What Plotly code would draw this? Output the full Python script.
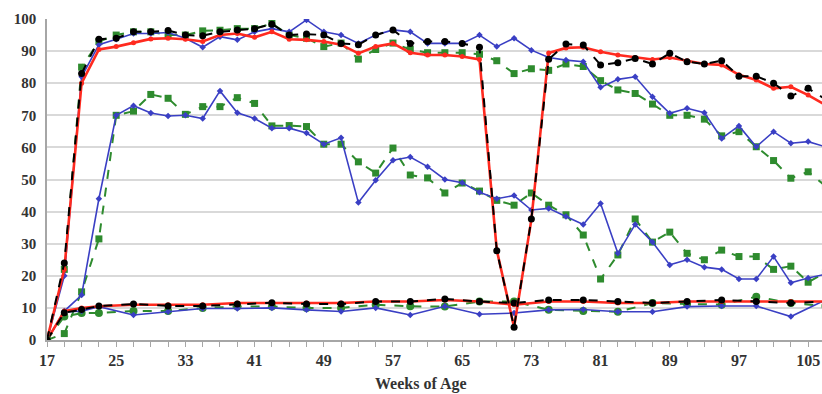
import plotly.graph_objects as go

# ---- data ----
weeks = list(range(17, 108, 2))  # 17..107, every 2 weeks
weeks_low = [17, 19, 21, 23] + list(range(27, 108, 4))

top_red = [0, 22, 80, 90.5, 91.4, 92.6, 93.8, 94, 93.7, 93, 95, 95.5, 94.3, 96, 93.7, 93.5,
           93, 92, 89.3, 91.4, 92.4, 89.5, 88.8, 88.8, 88.3, 87.4, 28, 4, 37.5, 89.4, 91,
           91.2, 89.8, 88.8, 88, 87.4, 88, 87, 86, 85.7, 82.6, 81, 78.4, 78.9, 76.3, 73.2]
top_black = [0, 24, 83, 93.7, 94, 96, 96, 96.4, 95, 94.8, 96, 96.6, 97, 98.4, 95, 95.3,
             95, 92.4, 92, 95, 96.6, 92.4, 93, 93, 92.4, 91.2, 27.8, 4, 37.7, 87.5, 92.2,
             91.9, 85.7, 86.4, 87.7, 86, 89.3, 86.7, 86, 87, 82.2, 82.2, 80, 76, 78.4, 75]
top_blue = [0, 20, 82, 92, 93.7, 95.5, 95.5, 95.8, 94, 91.2, 94.5, 93.5, 96, 97, 96, 99.7,
            96, 95, 92.4, 95, 96.6, 96, 92.4, 92.4, 92.4, 95, 91.4, 94, 90.3, 88, 87.2,
            86.7, 78.7, 81.2, 82, 75.8, 70.6, 72.2, 70.8, 62.8, 66.7, 60.2, 64.9, 61.3, 61.8, 60.2]
top_green = [0, 22, 85, 93, 95, 96, 96, 95, 95, 96.3, 96.5, 97, 97, 98.6, 95, 94,
             91.4, 92.5, 87.5, 90.5, 92.5, 90.5, 89.5, 89.5, 89.5, 89, 87, 83, 84.5, 84, 86,
             85.2, 80.8, 77.9, 76.8, 73.5, 70, 70, 68.8, 63.6, 64.9, 60.2, 55.9, 50.4, 52.4, 48]
mid_blue = [0, 9, 14, 44, 70, 73, 70.7, 69.8, 70, 69, 77.6, 70.8, 69, 66, 66, 64.5,
            61, 63, 42.8, 49.8, 56, 57, 54, 50, 49, 46, 44, 45, 40.5, 41, 38.5,
            36, 42.5, 27, 36, 30.5, 23.4, 25, 22.7, 22, 19, 19, 26, 17.8, 19.3, 20.5]
mid_green = [0, 2, 15, 31.5, 70, 71.3, 76.5, 75.3, 70.3, 72.7, 72.7, 75.5, 73.7, 66.7, 66.8, 66.5,
             61, 61, 55.5, 52, 59.8, 51.4, 50.5, 45.8, 48.9, 46.4, 43.5, 42, 45.8, 42, 39,
             32.7, 19, 26.5, 37.7, 30.5, 33.6, 27, 25, 28, 26, 26, 22, 23, 18, 21]
low_red = [0, 9, 10, 10.5, 11, 11, 11, 11.5, 11.5, 11.5, 11.5, 12, 12, 12.5, 12, 11,
           12, 12, 11.5, 11.5, 12, 12, 12, 12, 12]
low_black = [0, 8.5, 9.5, 10.6, 11.2, 10.6, 10.6, 11.2, 11.6, 11.2, 11.2, 12, 12, 12.8, 12, 11.5,
             12.5, 12.5, 12, 11.5, 12, 12.5, 12, 11.5, 12]
low_blue = [0, 8.8, 9, 10.4, 7.8, 8.8, 9.8, 9.8, 10, 9.4, 8.9, 10, 7.8, 10.5, 8, 8.4,
            9.4, 9.5, 8.8, 8.8, 10.4, 10.6, 10.6, 7.3, 12.5]
low_green = [0, 7.3, 8.4, 8.4, 9, 9, 10, 10.4, 10.4, 10, 10, 11, 10.5, 10.4, 12, 12,
             9.4, 9, 8.8, 11.5, 11.2, 11, 13.5, 11.5, 10.6]

x_ticks = list(range(17, 106, 8))
x_title = "Weeks of Age"

RED = "#FF2A1F"
BLACK = "#000000"
BLUE = "#3A3FC4"
GREEN = "#2E8B2E"

fig = go.Figure()


def add(x, y, color, dash, symbol, msize, lw):
    fig.add_trace(go.Scatter(
        x=x, y=y, mode="lines+markers",
        line=dict(color=color, width=lw, dash=dash),
        marker=dict(symbol=symbol, size=msize, color=color),
        showlegend=False, hoverinfo="skip"))


# middle group
add(weeks, mid_green, GREEN, "dash", "square", 7, 2)
add(weeks, mid_blue, BLUE, "solid", "diamond", 5, 1.6)
# low group
add(weeks_low, low_green, GREEN, "dash", "circle", 8, 2)
add(weeks_low, low_blue, BLUE, "solid", "diamond", 5, 1.6)
add(weeks_low, low_red, RED, "solid", "circle", 5, 2.5)
add(weeks_low, low_black, BLACK, "dash", "circle", 7, 2)
# top group
add(weeks, top_green, GREEN, "dash", "square", 7, 2)
add(weeks, top_blue, BLUE, "solid", "diamond", 5, 1.6)
add(weeks, top_red, RED, "solid", "circle", 5, 2.6)
add(weeks, top_black, BLACK, "dash", "circle", 7, 2)

font_serif = "Liberation Serif"
L, R, T, B = 47, 0, 19, 54
W, H = 822, 394

fig.update_layout(
    width=W, height=H,
    margin=dict(l=L, r=R, t=T, b=B),
    paper_bgcolor="white", plot_bgcolor="white",
    font=dict(family=font_serif, size=16, color="#333333"),
    annotations=[dict(
        text="<b>" + x_title + "</b>", xref="paper", yref="paper",
        x=(421 - L) / (W - L - R), y=0, yshift=-44, xanchor="center", yanchor="middle",
        showarrow=False, font=dict(family=font_serif, size=16, color="#333333"))],
)
fig.update_xaxes(
    range=[17, 106.6],
    tickmode="array", tickvals=x_ticks, ticktext=[str(v) for v in x_ticks],
    tickfont=dict(family=font_serif, size=16, color="#333333", weight="bold"),
    ticks="outside", ticklen=5, tickcolor="#A6A6A6",
    minor=dict(dtick=2, tick0=17, ticks="outside", ticklen=5, tickcolor="#A6A6A6", showgrid=False),
    showgrid=False, zeroline=False,
    showline=True, linecolor="#A6A6A6", linewidth=1.5,
)
fig.update_yaxes(
    range=[0, 100], dtick=10,
    tickfont=dict(family=font_serif, size=15, color="#333333", weight="bold"),
    showgrid=True, gridcolor="#D9D9D9", gridwidth=1.5,
    zeroline=False, showline=True, linecolor="#A6A6A6", linewidth=1.5,
    ticks="", ticklabelstandoff=6,
)

fig.write_html("out.html", config={"displayModeBar": False},
               post_script="document.body.style.margin='0';document.body.style.overflow='hidden';")
